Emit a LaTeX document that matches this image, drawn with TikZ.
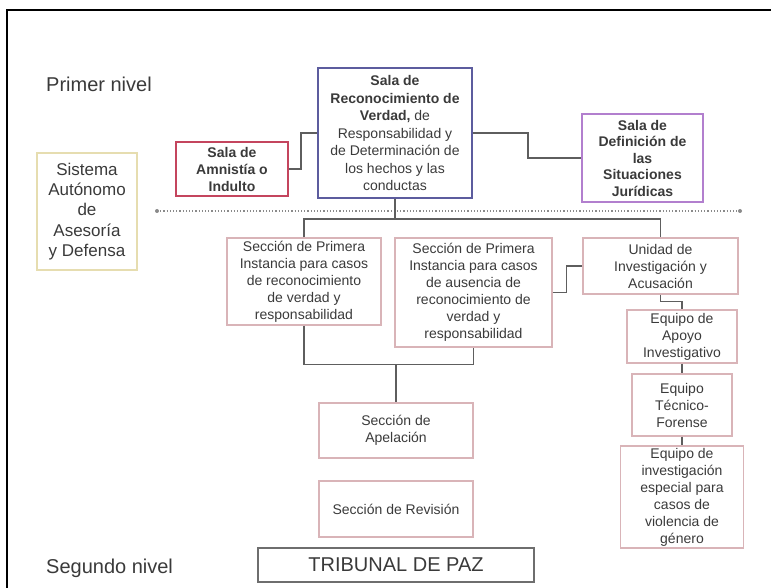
\documentclass[tikz,border=0pt]{standalone}
\usepackage{fontspec}
\setmainfont{Liberation Sans}
\usepackage{xcolor}
\definecolor{ink}{HTML}{3A3A3A}
\definecolor{wire}{HTML}{5E5E5E}
\definecolor{pinkline}{HTML}{D9B4B8}
\definecolor{redline}{HTML}{C4455E}
\definecolor{blueline}{HTML}{5C5C9E}
\definecolor{violetline}{HTML}{B27FCE}
\definecolor{sandline}{HTML}{E6DDB0}
\definecolor{dotline}{HTML}{8A8A8A}

\begin{document}
\begin{tikzpicture}[x=1pt,y=-1pt,
  box/.style={draw=pinkline,line width=1.2pt,align=center,inner sep=0pt,
    text=ink,font=\fontsize{14}{17}\selectfont},
  sala/.style={box,line width=1.5pt,font=\fontsize{14}{17}\selectfont\bfseries},
  level/.style={anchor=west,inner sep=0pt,text=ink,font=\fontsize{20}{24}\selectfont},
  link/.style={draw=wire,line width=1.6pt}]
  \useasboundingbox (0,0) rectangle (771,588);
  \draw[line width=2pt] (7,588) -- (7,10) -- (771,10);

  \node (n1) [level] at (46,84) {Primer nivel};
  \node (n2) [level] at (46,568) {Segundo nivel};

  \node (rec) [box,draw=blueline,line width=1.5pt,minimum width=154pt,minimum height=130pt,
    font=\fontsize{14}{17.5}\selectfont] at (395,133)
    {\textbf{Sala de}\\\textbf{Reconocimiento de}\\\textbf{Verdad,} de\\Responsabilidad y\\
     de Determinación de\\los hechos y las\\conductas};
  \node (amn) [sala,draw=redline,minimum width=112pt,minimum height=54pt] at (232,169)
    {Sala de\\Amnistía o\\Indulto};
  \node (def) [sala,draw=violetline,minimum width=121pt,minimum height=88pt,
    font=\fontsize{14}{16.5}\selectfont\bfseries] at (642.5,158)
    {Sala de\\Definición de\\las\\Situaciones\\Jurídicas};
  \node (sis) [box,draw=sandline,minimum width=100pt,minimum height=117pt,
    font=\fontsize{17}{20.3}\selectfont] at (87,211.5)
    {Sistema\\Autónomo\\de\\Asesoría\\y Defensa};

  \node (sec1) [box,minimum width=154pt,minimum height=87pt] at (304,281.5)
    {Sección de Primera\\Instancia para casos\\de reconocimiento\\de verdad y\\responsabilidad};
  \node (sec2) [box,minimum width=157pt,minimum height=109pt] at (473.5,292.5)
    {Sección de Primera\\Instancia para casos\\de ausencia de\\reconocimiento de\\verdad y\\responsabilidad};
  \node (uni) [box,minimum width=155pt,minimum height=56pt] at (660.5,266)
    {Unidad de\\Investigación y\\Acusación};
  \node (apo) [box,minimum width=110pt,minimum height=53pt] at (682,336.5)
    {Equipo de\\Apoyo\\Investigativo};
  \node (tec) [box,minimum width=100pt,minimum height=62pt] at (682,405)
    {Equipo\\Técnico-\\Forense};
  \node (esp) [box,minimum width=123pt,minimum height=102pt] at (682,497)
    {Equipo de\\investigación\\especial para\\casos de\\violencia de\\género};
  \node (ape) [box,minimum width=154pt,minimum height=55pt] at (396,430.5)
    {Sección de\\Apelación};
  \node (rev) [box,minimum width=154pt,minimum height=56pt] at (396,509)
    {Sección de Revisión};
  \node (tri) [box,draw=wire!90,line width=1.8pt,minimum width=276pt,minimum height=34pt,
    font=\fontsize{20}{24}\selectfont] at (396,565) {TRIBUNAL DE PAZ};

  \path (157,211) coordinate (dl) (740,211) coordinate (dr);
  \draw[dotline,line width=1.2pt,dotted] (dl) -- (dr);
  \fill[dotline] (dl) circle (2pt) (dr) circle (2pt);

  \draw[link] (amn.east) -- ++(12,0) |- (rec.west);
  \draw[link] (rec.east) -- ++(55,0) |- (def.west);
  \path (rec.south) ++(0,20) coordinate (split);
  \draw[link] (rec.south) -- (split);
  \draw[link] (sec1.north) |- (split) -| (uni.north);
  \draw[link] (sec2.east) -- ++(14,0) |- (uni.west);
  \draw[link] (uni.south) -- ++(0,7) -| (apo.north);
  \draw[link] (apo.south) -- (tec.north);
  \draw[link] (tec.south) -- (esp.north);
  \path (ape.north) ++(0,-38) coordinate (join);
  \draw[link] (sec1.south) |- (join) -| (sec2.south);
  \draw[link] (join) -- (ape.north);
\end{tikzpicture}
\end{document}
